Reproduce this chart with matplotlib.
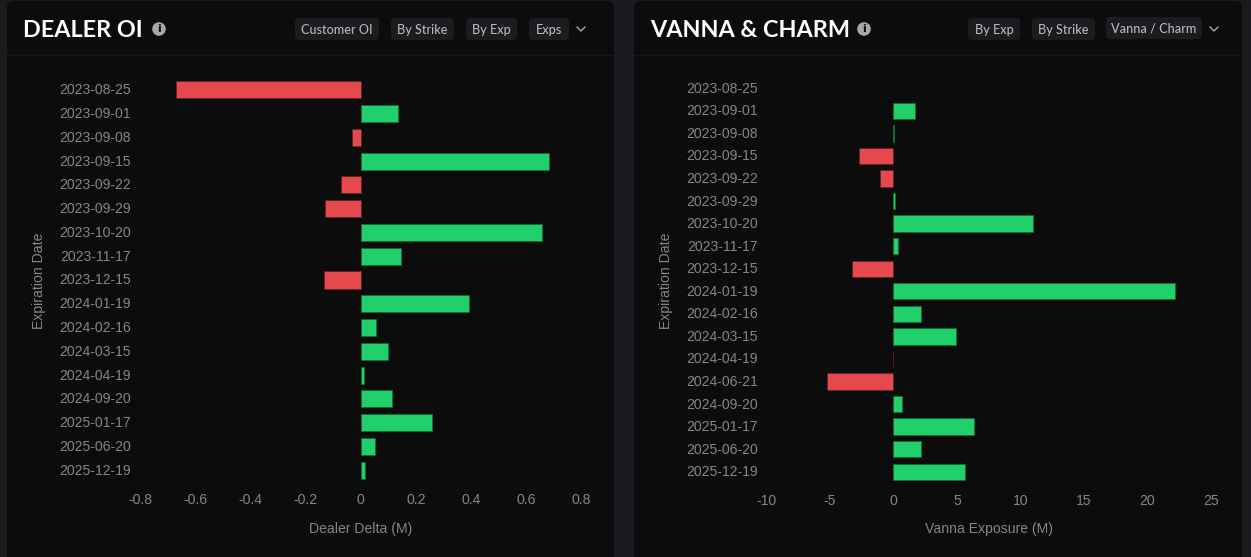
import matplotlib
matplotlib.use("Agg")
import matplotlib.pyplot as plt
from matplotlib.patches import FancyBboxPatch, Circle
from matplotlib.transforms import ScaledTranslation

W, H = 1251, 557

delta_dates = ["2023-08-25", "2023-09-01", "2023-09-08", "2023-09-15", "2023-09-22", "2023-09-29",
               "2023-10-20", "2023-11-17", "2023-12-15", "2024-01-19", "2024-02-16", "2024-03-15",
               "2024-04-19", "2024-09-20", "2025-01-17", "2025-06-20", "2025-12-19"]
delta_values = [-0.672, 0.135, -0.03, 0.684, -0.073, -0.13, 0.66, 0.148, -0.132, 0.395, 0.056, 0.1,
                0.012, 0.115, 0.257, 0.05, 0.016]
delta_ticks = [-0.8, -0.6, -0.4, -0.2, 0, 0.2, 0.4, 0.6, 0.8]
delta_tick_labels = ["-0.8", "-0.6", "-0.4", "-0.2", "0", "0.2", "0.4", "0.6", "0.8"]

vanna_dates = ["2023-08-25", "2023-09-01", "2023-09-08", "2023-09-15", "2023-09-22", "2023-09-29",
               "2023-10-20", "2023-11-17", "2023-12-15", "2024-01-19", "2024-02-16", "2024-03-15",
               "2024-04-19", "2024-06-21", "2024-09-20", "2025-01-17", "2025-06-20", "2025-12-19"]
vanna_values = [0, 1.7, 0.05, -2.7, -1.1, 0.15, 11.0, 0.35, -3.3, 22.2, 2.2, 4.9,
                -0.02, -5.25, 0.65, 6.3, 2.15, 5.65]
vanna_ticks = [-10, -5, 0, 5, 10, 15, 20, 25]
vanna_tick_labels = ["-10", "-5", "0", "5", "10", "15", "20", "25"]

PAGE = "#1a1b1e"
PANEL = "#0c0c0d"
LINE = "#171819"
CHIP = "#1b1c1f"
GREEN = "#22d06b"
RED = "#e5484d"
TICK = "#858585"
CHIP_TEXT = "#b4b6bb"

plt.rcParams["font.family"] = ["Liberation Sans", "DejaVu Sans"]
plt.rcParams["axes.unicode_minus"] = False

fig = plt.figure(figsize=(W / 100, H / 100), dpi=100, facecolor=PAGE)

# capa de fondo en pixeles para los paneles y botones
bg = fig.add_axes([0, 0, 1, 1], zorder=0)
bg.set_xlim(0, W)
bg.set_ylim(H, 0)
bg.axis("off")


def chip(x0, x1, y0, y1, label):
    bg.add_patch(FancyBboxPatch((x0 + 4, y0 + 4), x1 - x0 - 8, y1 - y0 - 8,
                                boxstyle="round,pad=4,rounding_size=4", fc=CHIP, ec="none"))
    bg.text((x0 + x1) / 2, (y0 + y1) / 2 + 0.5, label, color=CHIP_TEXT, fontsize=9.1, family="Lato",
            ha="center", va="center", fontweight="medium")


def chevron(x, y):
    bg.plot([x - 4, x, x + 4], [y - 2, y + 2, y - 2], color=CHIP_TEXT, lw=0.9)


def panel(x0, x1, title, title_x, info_x, chips, chev_x):
    bg.add_patch(FancyBboxPatch((x0 + 6, 7), x1 - x0 - 12, H + 20,
                                boxstyle="round,pad=6,rounding_size=6", fc=PANEL, ec="none"))
    bg.plot([x0, x1], [54.5, 54.5], color=LINE, lw=1)
    bg.text(title_x, 30.5, title, color="white", fontsize=16.8, family="Lato", fontweight="bold",
            ha="left", va="center")
    bg.add_patch(Circle((info_x, 29), 6.8, fc="#a3a6ad", ec="none"))
    bg.text(info_x, 29.3, "i", color=PANEL, fontsize=8, fontweight="bold", family="DejaVu Sans",
            ha="center", va="center")
    for c in chips:
        chip(*c)
    chevron(chev_x, 29)


def bars(left, right, top, bottom, dates, values, ticks, tick_labels, xlim, xlabel, xlabel_x, ylabel_x, pad):
    ax = fig.add_axes([left / W, 1 - bottom / H, (right - left) / W, (bottom - top) / H], zorder=1)
    ax.set_facecolor("none")
    colors = [GREEN if v >= 0 else RED for v in values]
    edges = ["#14693a" if v >= 0 else "#5c2225" for v in values]
    widths = [0 if v == 0 else 0.6 for v in values]
    ax.barh(range(len(dates)), values, height=0.72, color=colors, edgecolor=edges, linewidth=widths)
    ax.set_xlim(*xlim)
    ax.set_ylim(len(dates) - 0.5, -0.5)
    ax.set_yticks(range(len(dates)))
    ax.set_yticklabels(dates, va="center_baseline")
    ax.set_xticks(ticks)
    ax.set_xticklabels(tick_labels)
    ax.tick_params(axis="both", length=0, labelcolor=TICK, labelsize=10.1)
    ax.tick_params(axis="y", pad=pad)
    ax.tick_params(axis="x", pad=8)
    # las fechas quedan 1 px arriba de la barra
    shift = ScaledTranslation(0, 0.01, fig.dpi_scale_trans)
    for lab in ax.get_yticklabels():
        lab.set_transform(lab.get_transform() + shift)
    for name in ["left", "right", "bottom"]:
        ax.spines[name].set_visible(False)
    ax.spines["top"].set_color("#101112")
    ax.spines["top"].set_linewidth(0.8)
    bg.text(xlabel_x, 529, xlabel, color=TICK, fontsize=10.1, ha="center", va="center")
    bg.text(ylabel_x, 281, "Expiration Date", color=TICK, fontsize=10.1, rotation=90, ha="center", va="center")


panel(7, 614, "DEALER OI", 23, 159,
      [(295, 379, 18, 40, "Customer OI"), (391, 454, 18, 40, "By Strike"),
       (466, 517, 18, 40, "By Exp"), (529, 569, 18, 40, "Exps")], 581)
panel(634, 1242, "VANNA & CHARM", 650, 864,
      [(968, 1020, 18, 40, "By Exp"), (1032, 1095, 18, 40, "By Strike"),
       (1106, 1202, 17, 39, "Vanna / Charm")], 1214)

bars(140.5, 581, 78, 482, delta_dates, delta_values, delta_ticks, delta_tick_labels, (-0.8, 0.8),
     "Dealer Delta (M)", 360.5, 39, 7)
bars(766.5, 1211, 77, 483, vanna_dates, vanna_values, vanna_ticks, vanna_tick_labels, (-10, 25),
     "Vanna Exposure (M)", 988.5, 666, 6)

plt.savefig("out.png", dpi=100, facecolor=PAGE)
plt.close()
